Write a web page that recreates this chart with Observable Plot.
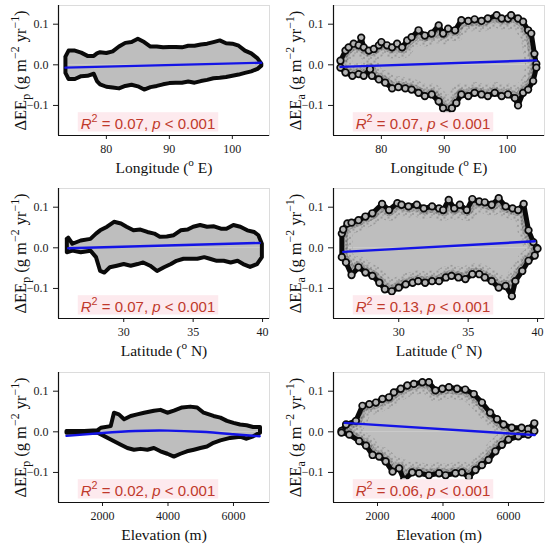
<!DOCTYPE html>
<html><head><meta charset="utf-8">
<script src="https://cdn.jsdelivr.net/npm/d3@7"></script>
<script src="https://cdn.jsdelivr.net/npm/@observablehq/plot@0.6"></script>
<style>
body{margin:0;background:#fff;}
#grid{display:grid;grid-template-columns:275px 275px;width:550px;}
#grid svg{display:block;}
</style></head><body><div id="grid"></div>
<script>
// ---------- tick labels / axis values ----------
const lonTicks = [80, 90, 100];
const latTicks = [30, 35, 40];
const elevTicks = [2000, 4000, 6000];
const yTicks = [-0.1, 0, 0.1];
const r2Values = ["0.07", "0.07", "0.07", "0.13", "0.02", "0.06"];

// ---------- point-cloud envelopes [x, ΔEE] ----------
const lonP_upper = [[73.5,0.02],[74,0.035],[75,0.035],[76,0.03],[77,0.022],[78,0.022],[78.5,0.028],[79,0.031],[80,0.029],[81,0.033],[82,0.045],[83,0.054],[84,0.056],[85,0.064],[86,0.056],[87,0.045],[88,0.045],[89,0.043],[90,0.044],[91,0.044],[92,0.043],[93,0.047],[94,0.047],[95,0.05],[96,0.052],[97,0.056],[98,0.06],[99,0.053],[100,0.052],[101,0.047],[102,0.035],[103,0.028],[104,0.016],[104.6,0.003]];
const lonP_lower = [[73.5,-0.02],[74,-0.035],[75,-0.035],[76,-0.028],[77,-0.027],[78,-0.022],[78.5,-0.04],[79,-0.048],[80,-0.054],[81,-0.056],[82,-0.058],[83,-0.052],[84,-0.049],[85,-0.053],[86,-0.061],[87,-0.055],[88,-0.052],[89,-0.048],[90,-0.045],[91,-0.044],[92,-0.044],[93,-0.041],[94,-0.044],[95,-0.04],[96,-0.037],[97,-0.033],[98,-0.032],[99,-0.03],[100,-0.027],[101,-0.024],[102,-0.02],[103,-0.016],[104,-0.01],[104.6,-0.002]];
const lonP_fit = [[73.5,-0.007],[104.6,0.005]];

const lonA_upper = [[73.5,0.01],[74.3,0.035],[74.8,0.043],[75.6,0.052],[76.4,0.048],[76.8,0.067],[77.2,0.043],[78,0.035],[78.8,0.039],[79.6,0.048],[80,0.056],[80.9,0.048],[81.7,0.043],[82.5,0.052],[83.3,0.043],[84.1,0.06],[84.8,0.068],[85.9,0.085],[86.9,0.072],[88,0.077],[89.1,0.097],[89.8,0.077],[90.6,0.089],[91.7,0.085],[92.7,0.11],[93.8,0.108],[94.8,0.112],[95.9,0.108],[96.9,0.114],[98.3,0.122],[99.1,0.114],[100.1,0.114],[100.6,0.122],[101.7,0.114],[102.5,0.106],[103.3,0.085],[103.8,0.077],[104.3,0.027],[104.6,0.002]];
const lonA_lower = [[73.5,-0.007],[74.3,-0.019],[75.4,-0.027],[76.4,-0.023],[77.2,-0.027],[78.2,-0.011],[78.5,-0.027],[79.6,-0.036],[80.6,-0.044],[81.7,-0.058],[82.7,-0.055],[83.8,-0.058],[84.8,-0.061],[85.9,-0.069],[86.9,-0.077],[88,-0.073],[89.1,-0.09],[89.8,-0.107],[90.4,-0.119],[91.2,-0.107],[91.9,-0.094],[92.7,-0.073],[93.8,-0.077],[94.8,-0.069],[95.9,-0.073],[96.9,-0.077],[98,-0.069],[99.1,-0.077],[100.1,-0.073],[101.2,-0.082],[101.7,-0.1],[102.5,-0.069],[103.3,-0.061],[104.1,-0.04],[104.6,-0.007]];
const lonA_fit = [[73.5,-0.005],[104.6,0.011]];

const latP_upper = [[25.9,0.022],[26.0,0.025],[26.3,0.01],[26.9,0.018],[27.6,0.022],[28.0,0.035],[28.3,0.043],[28.8,0.052],[29.3,0.064],[29.8,0.06],[30.2,0.052],[30.7,0.043],[31.2,0.045],[31.7,0.039],[32.2,0.035],[32.6,0.027],[33.1,0.028],[33.6,0.031],[34.1,0.043],[34.6,0.045],[35.0,0.052],[35.5,0.056],[36.0,0.052],[36.5,0.053],[37.0,0.047],[37.4,0.047],[37.9,0.056],[38.4,0.052],[38.9,0.043],[39.4,0.039],[39.7,0.031],[39.95,0.01]];
const latP_lower = [[25.9,-0.011],[26.3,-0.007],[26.9,-0.011],[27.6,-0.007],[28.0,-0.023],[28.3,-0.057],[28.6,-0.061],[29.0,-0.048],[29.5,-0.044],[30.0,-0.04],[30.5,-0.044],[31.0,-0.04],[31.4,-0.036],[31.9,-0.044],[32.4,-0.057],[32.9,-0.048],[33.4,-0.04],[33.8,-0.032],[34.3,-0.027],[34.8,-0.027],[35.3,-0.027],[35.8,-0.023],[36.2,-0.027],[36.7,-0.032],[37.2,-0.032],[37.7,-0.036],[38.2,-0.032],[38.6,-0.04],[39.1,-0.047],[39.6,-0.04],[39.95,-0.023]];
const latP_fit = [[26,-0.001],[39.8,0.012]];

const latA_upper = [[25.9,0.035],[26.0,0.045],[26.3,0.06],[26.6,0.062],[27.1,0.068],[27.6,0.077],[28.1,0.085],[28.8,0.108],[29.3,0.093],[29.9,0.11],[30.2,0.106],[30.7,0.102],[31.3,0.106],[31.8,0.097],[32.4,0.102],[32.9,0.097],[33.2,0.093],[33.6,0.118],[34.0,0.097],[34.4,0.106],[34.9,0.093],[35.3,0.12],[35.8,0.114],[36.2,0.112],[36.7,0.106],[37.2,0.122],[37.7,0.102],[38.2,0.097],[38.6,0.093],[39.0,0.108],[39.35,0.043],[39.7,0.014],[39.95,0.0]];
const latA_lower = [[25.9,-0.023],[26.2,-0.036],[26.6,-0.067],[27.1,-0.048],[27.6,-0.061],[28.1,-0.069],[28.6,-0.086],[29.0,-0.102],[29.5,-0.107],[30.0,-0.098],[30.5,-0.09],[31.0,-0.086],[31.4,-0.082],[31.9,-0.086],[32.4,-0.082],[32.9,-0.082],[33.4,-0.073],[33.8,-0.069],[34.3,-0.073],[34.8,-0.077],[35.3,-0.065],[35.8,-0.065],[36.2,-0.073],[36.7,-0.082],[37.2,-0.098],[37.7,-0.094],[38.15,-0.119],[38.4,-0.082],[38.9,-0.057],[39.35,-0.032],[39.8,-0.019],[40.0,-0.002]];
const latA_fit = [[26,-0.01],[39.8,0.016]];

const elevP_upper = [[900,0.002],[1440,0.002],[1850,0.004],[1950,0.01],[2250,0.014],[2350,0.047],[2500,0.043],[2660,0.031],[2860,0.039],[3060,0.043],[3270,0.047],[3570,0.052],[3770,0.054],[3980,0.047],[4180,0.052],[4430,0.06],[4680,0.062],[4890,0.06],[5090,0.047],[5390,0.039],[5600,0.035],[5800,0.027],[6000,0.022],[6200,0.018],[6400,0.016],[6600,0.012],[6810,0.012]];
const elevP_lower = [[900,-0.002],[1440,-0.002],[1850,-0.002],[2250,-0.019],[2560,-0.032],[2760,-0.04],[2960,-0.044],[3160,-0.042],[3370,-0.044],[3570,-0.04],[3770,-0.048],[3980,-0.054],[4180,-0.061],[4380,-0.054],[4580,-0.048],[4790,-0.044],[4990,-0.04],[5190,-0.036],[5390,-0.027],[5600,-0.021],[5900,-0.015],[6200,-0.012],[6400,-0.017],[6600,-0.011],[6810,-0.002]];
const elevP_fit = [[900,-0.01],[2000,-0.003],[3000,0.002],[4000,0.003],[5000,0.0],[6000,-0.006],[6800,-0.011]];

const elevA_upper = [[900,0.002],[1040,0.018],[1340,0.027],[1540,0.064],[1750,0.068],[1950,0.072],[2150,0.081],[2350,0.085],[2500,0.097],[2710,0.106],[2910,0.114],[3110,0.118],[3370,0.122],[3570,0.122],[3770,0.102],[3980,0.106],[4180,0.11],[4430,0.106],[4680,0.104],[4940,0.093],[5190,0.072],[5440,0.047],[5650,0.031],[5850,0.018],[6100,0.01],[6400,0.01],[6600,0.007],[6790,0.021]];
const elevA_lower = [[900,-0.002],[1140,-0.007],[1440,-0.023],[1650,-0.034],[1850,-0.057],[2050,-0.061],[2250,-0.073],[2460,-0.098],[2660,-0.09],[2810,-0.119],[3060,-0.1],[3270,-0.102],[3570,-0.107],[3880,-0.102],[4080,-0.107],[4380,-0.102],[4580,-0.1],[4790,-0.111],[4990,-0.094],[5190,-0.082],[5390,-0.069],[5600,-0.048],[5800,-0.032],[6000,-0.019],[6300,-0.011],[6600,-0.007],[6790,0.002]];
const elevA_fit = [[1000,0.022],[6800,-0.008]];

// ---------- configuration ----------
const yDomain = [-0.174, 0.146];
const xConf = {
  lon:  {domain:[72.4,105.9], ticks:lonTicks,  title:[{t:"Longitude ("},{t:"o",sup:true},{t:" E)"}]},
  lat:  {domain:[25.3,40.5],  ticks:latTicks,  title:[{t:"Latitude ("},{t:"o",sup:true},{t:" N)"}]},
  elev: {domain:[656,7100],   ticks:elevTicks, title:[{t:"Elevation (m)"}]}
};
const rows = [{h:180, mt:5, mb:45}, {h:185, mt:8, mb:47}, {h:183, mt:7, mb:46}];
const panels = [
  {x:"lon",  v:"p", up:lonP_upper,  lo:lonP_lower,  fit:lonP_fit,  r2:r2Values[0], row:0},
  {x:"lon",  v:"a", up:lonA_upper,  lo:lonA_lower,  fit:lonA_fit,  r2:r2Values[1], row:0},
  {x:"lat",  v:"p", up:latP_upper,  lo:latP_lower,  fit:latP_fit,  r2:r2Values[2], row:1},
  {x:"lat",  v:"a", up:latA_upper,  lo:latA_lower,  fit:latA_fit,  r2:r2Values[3], row:1},
  {x:"elev", v:"p", up:elevP_upper, lo:elevP_lower, fit:elevP_fit, r2:r2Values[4], row:2},
  {x:"elev", v:"a", up:elevA_upper, lo:elevA_lower, fit:elevA_fit, r2:r2Values[5], row:2}
];

const NS = "http://www.w3.org/2000/svg";
function rich(svg, key, parts, fs) {
  Array.from(svg.querySelectorAll("text")).filter(t => t.textContent === key).forEach(t => {
    while (t.firstChild) t.removeChild(t.firstChild);
    let shift = 0;
    for (const p of parts) {
      const ts = document.createElementNS(NS, "tspan");
      ts.textContent = p.t;
      const target = p.sup ? -0.42 * fs : p.sub ? 0.28 * fs : 0;
      const d = target - shift;
      if (d) ts.setAttribute("dy", d.toFixed(2));
      shift = target;
      if (p.sup || p.sub) ts.setAttribute("font-size", (fs * 0.72).toFixed(2));
      if (p.i) ts.setAttribute("font-style", "italic");
      t.appendChild(ts);
    }
    t.setAttribute("data-key", key);
  });
}
// speckle texture tiles (styling only)
function speckle(id, w, h, dots) {
  const pat = document.createElementNS(NS, "pattern");
  pat.setAttribute("id", id);
  pat.setAttribute("patternUnits", "userSpaceOnUse");
  pat.setAttribute("width", w); pat.setAttribute("height", h);
  for (const [cx, cy, rr] of dots) {
    const c = document.createElementNS(NS, "circle");
    c.setAttribute("cx", cx); c.setAttribute("cy", cy); c.setAttribute("r", rr);
    c.setAttribute("fill", "#111");
    pat.appendChild(c);
  }
  return pat;
}

const grid = document.getElementById("grid");
const fx = d => d[0], fy = d => d[1];

panels.forEach((p, i) => {
  const r = rows[p.row], xc = xConf[p.x];
  const isA = p.v === "a";
  const outline = [...p.up, ...p.lo.slice().reverse(), p.up[0]];
  const marks = [
    Plot.frame({stroke: "#dcdcdc"}),
    Plot.areaY(p.up, {x: fx, y1: 0, y2: fy, fill: "#bebebe"}),
    Plot.areaY(p.lo, {x: fx, y1: fy, y2: 0, fill: "#bebebe"})
  ];
  if (isA) marks.push(
    Plot.line(outline, {x: fx, y: fy, stroke: "#000", strokeWidth: 22, strokeLinejoin: "round"}),
    Plot.line(outline, {x: fx, y: fy, stroke: "#000", strokeWidth: 12, strokeLinejoin: "round"})
  );
  marks.push(Plot.line(outline, {x: fx, y: fy, stroke: "#0a0a0a", strokeWidth: isA ? 5 : 4, strokeLinejoin: "round"}));
  if (isA) marks.push(Plot.dot([...p.up, ...p.lo], {x: fx, y: fy, r: 3.3, fill: "#b4b4b4", stroke: "#0a0a0a", strokeWidth: 1.7}));
  marks.push(
    Plot.line(p.fit, {x: fx, y: fy, stroke: "#1414e6", strokeWidth: 2.4, curve: "natural"}),
    Plot.ruleX([xc.domain[0]], {stroke: "#111", strokeWidth: 1.2}),
    Plot.ruleY([yDomain[0]], {stroke: "#111", strokeWidth: 1.2}),
    Plot.text(["__R2__"], {text: d => d, frameAnchor: "bottom", dx: -16, dy: -7, lineAnchor: "bottom", textAnchor: "middle",
      fill: "#c0392b", fontFamily: "Liberation Sans, Arial, sans-serif", fontSize: 15}),
    Plot.text(["__XT__"], {text: d => d, frameAnchor: "bottom", dy: 37, lineAnchor: "bottom", textAnchor: "middle", fill: "#111", fontSize: 15.5}),
    Plot.text(["__YT__"], {text: d => d, frameAnchor: "left", dx: -38, rotate: -90, lineAnchor: "middle", textAnchor: "middle", fill: "#111", fontSize: 16.5})
  );
  const svg = Plot.plot({
    width: 275, height: r.h,
    marginLeft: 58, marginRight: 6, marginTop: r.mt, marginBottom: r.mb,
    style: {fontFamily: "Liberation Serif, 'Times New Roman', serif", fontSize: "12px", color: "#1a1a1a", background: "#fff", overflow: "visible"},
    x: {domain: xc.domain, ticks: xc.ticks, tickFormat: d => String(d), label: null, tickSize: 4, tickPadding: 5},
    y: {domain: yDomain, ticks: yTicks, tickFormat: d3.format(".1f"), label: null, tickSize: 5, tickPadding: 5},
    marks
  });
  grid.appendChild(svg);
  if (isA) {
    // dense black speckle band just inside the point cloud
    const defs = document.createElementNS(NS, "defs");
    const cp = document.createElementNS(NS, "clipPath");
    cp.setAttribute("id", "cloud" + i);
    svg.querySelectorAll('g[aria-label="area"] path').forEach(a => cp.appendChild(a.cloneNode()));
    defs.appendChild(cp);
    defs.appendChild(speckle("spA" + i, 7, 6, [[1,1,0.55],[4.5,3.2,0.5],[2.3,4.8,0.45]]));
    defs.appendChild(speckle("spB" + i, 5, 4, [[0.8,0.7,0.6],[3.2,1.6,0.55],[1.9,3.2,0.6],[4.2,3.6,0.45]]));
    svg.insertBefore(defs, svg.firstChild);
    const lines = svg.querySelectorAll('g[aria-label="line"]');
    [0, 1].forEach(k => {
      const g = lines[k];
      g.setAttribute("clip-path", `url(#cloud${i})`);
      const url = `url(#${k === 0 ? "spA" : "spB"}${i})`;
      g.setAttribute("stroke", url);
      g.querySelectorAll("path").forEach(pa => pa.setAttribute("stroke", url));
    });
  }
  rich(svg, "__XT__", xc.title, 15.5);
  rich(svg, "__YT__", [{t:"ΔEE"},{t:p.v,sub:true},{t:" (g m"},{t:"−2",sup:true},{t:" yr"},{t:"−1",sup:true},{t:")"}], 16.5);
  rich(svg, "__R2__", [{t:"R",i:true},{t:"2",sup:true},{t:` = ${p.r2}, `},{t:"p",i:true},{t:" < 0.001"}], 15);
  svg.querySelectorAll('text[data-key="__R2__"]').forEach(t => {
    const b = t.getBBox();
    const rect = document.createElementNS(NS, "rect");
    rect.setAttribute("x", b.x - 3); rect.setAttribute("y", b.y);
    rect.setAttribute("width", b.width + 6); rect.setAttribute("height", b.height);
    rect.setAttribute("fill", "#fdeaee");
    if (t.getAttribute("transform")) rect.setAttribute("transform", t.getAttribute("transform"));
    t.parentNode.insertBefore(rect, t);
  });
});
</script></body></html>
